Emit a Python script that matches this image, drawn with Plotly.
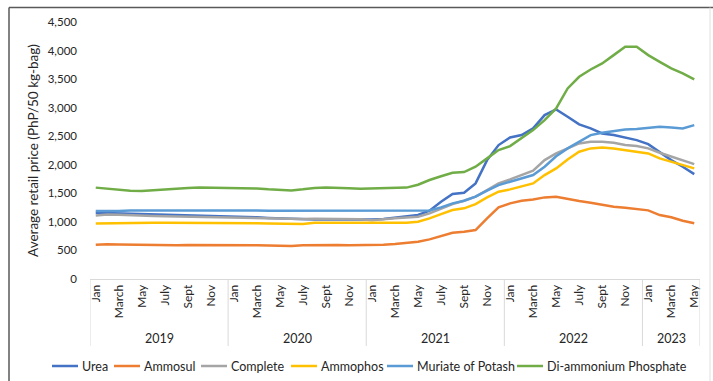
import plotly.graph_objects as go

months = ["Jan", "Feb", "March", "April", "May", "June", "July", "Aug", "Sept", "Oct", "Nov", "Dec"]
years = ["2019", "2020", "2021", "2022", "2023"]
months_per_year = [12, 12, 12, 12, 5]

urea = [1160, 1155, 1150, 1145, 1140, 1130, 1125, 1120, 1115, 1110, 1105, 1100,
        1095, 1090, 1080, 1070, 1060, 1050, 1040, 1040, 1040, 1040, 1035, 1035,
        1040, 1050, 1070, 1090, 1120, 1196, 1353, 1487, 1511, 1674, 2082, 2345,
        2479, 2520, 2637, 2870, 2969, 2841, 2707, 2637, 2549, 2520, 2479, 2432,
        2362, 2228, 2082, 1966, 1837]
ammosul = [600, 610, 605, 600, 595, 595, 595, 590, 595, 595, 600, 595,
           590, 590, 590, 585, 580, 580, 590, 595, 595, 595, 590, 590,
           590, 600, 612, 630, 653, 694, 752, 811, 828, 857, 1062, 1254,
           1324, 1370, 1394, 1429, 1441, 1400, 1365, 1336, 1295, 1266, 1248, 1231,
           1202, 1120, 1080, 1020, 975]
complete = [1110, 1130, 1125, 1115, 1110, 1105, 1100, 1095, 1090, 1085, 1080, 1075,
            1070, 1065, 1060, 1055, 1050, 1050, 1050, 1055, 1055, 1050, 1050, 1045,
            1030, 1040, 1062, 1075, 1090, 1149, 1237, 1312, 1370, 1441, 1557, 1674,
            1744, 1820, 1895, 2082, 2199, 2287, 2374, 2403, 2403, 2385, 2345, 2327,
            2287, 2211, 2141, 2082, 2012]
ammophos = [970, 975, 975, 980, 980, 985, 985, 985, 985, 985, 980, 980,
            980, 980, 975, 970, 965, 960, 965, 985, 985, 985, 985, 980,
            975, 975, 975, 985, 1003, 1062, 1137, 1207, 1237, 1312, 1429, 1528,
            1569, 1616, 1674, 1820, 1937, 2094, 2228, 2287, 2304, 2287, 2257, 2240,
            2199, 2112, 2053, 1995, 1937]
potash = [1190, 1185, 1190, 1200, 1200, 1200, 1205, 1210, 1210, 1210, 1205, 1205,
          1205, 1200, 1200, 1195, 1195, 1195, 1200, 1200, 1200, 1200, 1200, 1195,
          1195, 1195, 1195, 1195, 1195, 1200, 1254, 1324, 1370, 1441, 1546, 1645,
          1703, 1762, 1820, 1966, 2150, 2287, 2403, 2520, 2561, 2590, 2619, 2625,
          2648, 2666, 2654, 2637, 2695]
dap = [1600, 1580, 1560, 1545, 1540, 1555, 1570, 1580, 1595, 1600, 1598, 1595,
       1590, 1588, 1585, 1570, 1555, 1550, 1570, 1595, 1600, 1598, 1590, 1580,
       1585, 1590, 1600, 1600, 1650, 1733, 1800, 1860, 1873, 1966, 2112, 2257,
       2327, 2462, 2607, 2782, 2987, 3337, 3541, 3669, 3774, 3920, 4066, 4066,
       3920, 3803, 3687, 3600, 3494]

series_names = ["Urea", "Ammosul", "Complete", "Ammophos", "Muriate of Potash", "Di-ammonium Phosphate"]
series_values = [urea, ammosul, complete, ammophos, potash, dap]
colors = ["#4472C4", "#ED7D31", "#A5A5A5", "#FFC000", "#5B9BD5", "#70AD47"]

y_ticks = [0, 500, 1000, 1500, 2000, 2500, 3000, 3500, 4000, 4500]

# ---- layout geometry (pixels) ----
W, H = 713, 381
PL, PR, PT, PB = 90, 700, 22, 279          # plot area edges
legend_text_px = [80, 142, 229, 319, 415, 545]  # left edge of each legend label
legend_y_px = 366


def px2x(px):
    return (px - PL) / (PR - PL)


def px2y(py):
    return (PB - py) / (PB - PT)


month_labels = []
for y, n in zip(years, months_per_year):
    month_labels += months[:n]
x_idx = list(range(len(month_labels)))
tickvals = [i for i in x_idx if i % 2 == 0]
ticktext = [month_labels[i] for i in tickvals]

FONT = "Lato, Open Sans, sans-serif"
TXT = "#262626"

fig = go.Figure()
for name, vals, col in zip(series_names, series_values, colors):
    fig.add_trace(go.Scatter(x=x_idx, y=vals, mode="lines", name=name,
                             line=dict(color=col, width=2.5), showlegend=False))

shapes = []
annotations = []
# year group labels and separators
start = 0
bounds = [-0.5]
for y, n in zip(years, months_per_year):
    end = start + n
    bounds.append(end - 0.5)
    annotations.append(dict(x=(start + end - 1) / 2, y=px2y(338), xref="x", yref="paper",
                            text=y, showarrow=False, font=dict(size=12.5, color=TXT, family=FONT),
                            yanchor="middle"))
    start = end
for b in bounds:
    shapes.append(dict(type="line", xref="x", yref="paper", x0=b, x1=b, y0=0, y1=px2y(346),
                       line=dict(color="#D9D9D9", width=1)))

# legend (drawn as line samples + labels)
for name, col, tx in zip(series_names, colors, legend_text_px):
    shapes.append(dict(type="line", xref="paper", yref="paper",
                       x0=px2x(tx - 28), x1=px2x(tx - 2), y0=px2y(legend_y_px), y1=px2y(legend_y_px),
                       line=dict(color=col, width=2.5)))
    annotations.append(dict(x=px2x(tx), y=px2y(legend_y_px), xref="paper", yref="paper",
                            text=name, showarrow=False, xanchor="left", yanchor="middle",
                            font=dict(size=12.5, color=TXT, family=FONT)))

# outer frame
shapes.append(dict(type="line", xref="paper", yref="paper", x0=px2x(9), x1=px2x(9),
                   y0=px2y(7.5), y1=px2y(400), line=dict(color="#595959", width=1.5)))
shapes.append(dict(type="line", xref="paper", yref="paper", x0=px2x(9), x1=px2x(720),
                   y0=px2y(7.5), y1=px2y(7.5), line=dict(color="#595959", width=1.5)))
shapes.append(dict(type="line", xref="paper", yref="paper", x0=px2x(710), x1=px2x(710),
                   y0=px2y(7.5), y1=px2y(400), line=dict(color="#E0E0E0", width=1)))

fig.update_layout(
    width=W, height=H,
    margin=dict(l=PL, r=W - PR, t=PT, b=H - PB, autoexpand=False),
    paper_bgcolor="white", plot_bgcolor="white",
    font=dict(family=FONT, size=11, color=TXT),
    showlegend=False,
    xaxis=dict(range=[-0.5, len(x_idx) - 0.5], tickmode="array", tickvals=tickvals, ticktext=ticktext,
               tickangle=-90, showgrid=False, zeroline=False, showline=True, linecolor="#D9D9D9",
               linewidth=1, ticks="", tickfont=dict(size=12, color=TXT), fixedrange=True),
    yaxis=dict(range=[0, 4500], tickmode="array", tickvals=y_ticks,
               ticktext=[f"{v:,}" for v in y_ticks], showgrid=False, zeroline=False, showline=False,
               ticks="", ticklabelstandoff=12, tickfont=dict(size=11.5, color=TXT),
               title=dict(text="Average retail price (PhP/50 kg-bag)", font=dict(size=13.5, color=TXT),
                          standoff=5)),
    shapes=shapes,
    annotations=annotations,
)

fig.write_html("out.html")
